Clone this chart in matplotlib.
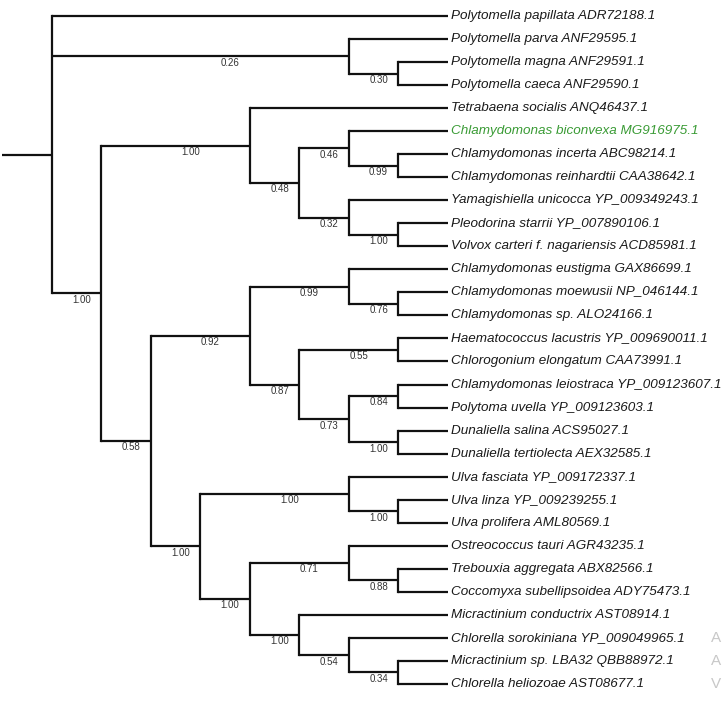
import matplotlib
matplotlib.use("Agg")
import matplotlib.pyplot as plt

# ---- data ----
leaf_names = [
    "Polytomella papillata ADR72188.1",
    "Polytomella parva ANF29595.1",
    "Polytomella magna ANF29591.1",
    "Polytomella caeca ANF29590.1",
    "Tetrabaena socialis ANQ46437.1",
    "Chlamydomonas biconvexa MG916975.1",
    "Chlamydomonas incerta ABC98214.1",
    "Chlamydomonas reinhardtii CAA38642.1",
    "Yamagishiella unicocca YP_009349243.1",
    "Pleodorina starrii YP_007890106.1",
    "Volvox carteri f. nagariensis ACD85981.1",
    "Chlamydomonas eustigma GAX86699.1",
    "Chlamydomonas moewusii NP_046144.1",
    "Chlamydomonas sp. ALO24166.1",
    "Haematococcus lacustris YP_009690011.1",
    "Chlorogonium elongatum CAA73991.1",
    "Chlamydomonas leiostraca YP_009123607.1",
    "Polytoma uvella YP_009123603.1",
    "Dunaliella salina ACS95027.1",
    "Dunaliella tertiolecta AEX32585.1",
    "Ulva fasciata YP_009172337.1",
    "Ulva linza YP_009239255.1",
    "Ulva prolifera AML80569.1",
    "Ostreococcus tauri AGR43235.1",
    "Trebouxia aggregata ABX82566.1",
    "Coccomyxa subellipsoidea ADY75473.1",
    "Micractinium conductrix AST08914.1",
    "Chlorella sorokiniana YP_009049965.1",
    "Micractinium sp. LBA32 QBB88972.1",
    "Chlorella heliozoae AST08677.1",
]
highlight_leaf = "Chlamydomonas biconvexa MG916975.1"
leaf_level = 8

# tree topology: (level, support, [children]); leaves are indices into leaf_names
tree = (0, None, [
    0,
    (6, "0.26", [1, (7, "0.30", [2, 3])]),
    (1, "1.00", [
        (4, "1.00", [
            4,
            (5, "0.48", [
                (6, "0.46", [5, (7, "0.99", [6, 7])]),
                (6, "0.32", [8, (7, "1.00", [9, 10])]),
            ]),
        ]),
        (2, "0.58", [
            (4, "0.92", [
                (6, "0.99", [11, (7, "0.76", [12, 13])]),
                (5, "0.87", [
                    (7, "0.55", [14, 15]),
                    (6, "0.73", [(7, "0.84", [16, 17]), (7, "1.00", [18, 19])]),
                ]),
            ]),
            (3, "1.00", [
                (6, "1.00", [20, (7, "1.00", [21, 22])]),
                (4, "1.00", [
                    (6, "0.71", [23, (7, "0.88", [24, 25])]),
                    (5, "1.00", [26, (6, "0.54", [27, (7, "0.34", [28, 29])])]),
                ]),
            ]),
        ]),
    ]),
])
side_letters = ["A", "A", "V"]

# ---- plotting ----
fig = plt.figure(figsize=(7.24, 7.01), dpi=100)
ax = fig.add_axes([0, 0, 1, 1])
ax.set_xlim(-1.05, 13.58)
ax.set_ylim(29.74, -0.695)
ax.axis("off")

LW = 1.6
LC = "#111111"


def draw(node, parent_x):
    if isinstance(node, int):
        y = node
        x = leaf_level
        ax.plot([parent_x, x], [y, y], color=LC, lw=LW, solid_capstyle="butt")
        name = leaf_names[node]
        col = "#3a9b35" if name == highlight_leaf else "#1a1a1a"
        ax.text(x + 0.06, y, name, fontsize=9.7, style="italic",
                family="Liberation Sans", color=col, va="center", ha="left")
        return y
    level, support, children = node
    ys = [draw(c, level) for c in children]
    y = (ys[0] + ys[-1]) / 2
    ax.plot([level, level], [ys[0], ys[-1]], color=LC, lw=LW, solid_capstyle="projecting")
    ax.plot([parent_x, level], [y, y], color=LC, lw=LW, solid_capstyle="butt")
    if support is not None:
        lx = parent_x + 0.6 * (level - parent_x)
        ax.text(lx, y + 0.28, support, fontsize=7.0, family="Liberation Sans",
                color="#333333", ha="center", va="center")
    return y


draw(tree, -1.0)

for i, s in enumerate(side_letters):
    ax.text(13.32, 27 + i, s, fontsize=11, family="Liberation Sans",
            color="#c8c8c8", va="center", ha="left")

fig.savefig("out.png", dpi=100)
